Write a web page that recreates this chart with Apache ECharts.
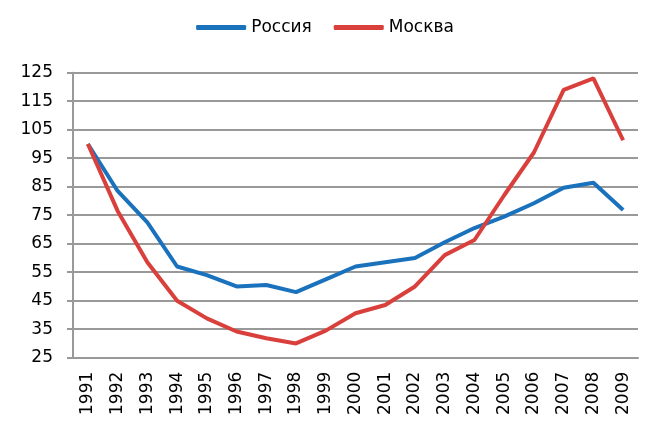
<!DOCTYPE html>
<html>
<head>
<meta charset="utf-8">
<script src="https://cdn.jsdelivr.net/npm/echarts@6/dist/echarts.min.js"></script>
<style>
  html, body { margin: 0; padding: 0; background: #fff; }
  #chart { width: 650px; height: 443px; }
</style>
</head>
<body>
<div id="chart"></div>
<script>
// Годы и индексы (1991 = 100)
const years = ['1991', '1992', '1993', '1994', '1995', '1996', '1997', '1998', '1999', '2000',
  '2001', '2002', '2003', '2004', '2005', '2006', '2007', '2008', '2009'];
const russia = [100, 83.5, 72.5, 57, 54, 50, 50.5, 48, 52.5, 57, 58.5, 60, 65.5, 70.5, 74.5, 79.2, 84.6, 86.4, 76.8];
const moscow = [100, 76.5, 58.5, 45, 38.8, 34.2, 31.8, 30, 34.5, 40.6, 43.5, 50, 61, 66.3, 82, 97, 119, 123, 101.3];
const seriesNames = ['Россия', 'Москва'];
const colors = ['#1a72bd', '#d9403b'];

const font = 'DejaVu Sans, Verdana, sans-serif';
const chart = echarts.init(document.getElementById('chart'));

chart.setOption({
  animation: false,
  color: colors,
  legend: {
    top: 14,
    left: 'center',
    icon: 'roundRect',
    itemWidth: 50,
    itemHeight: 5,
    itemGap: 22,
    textStyle: { fontFamily: font, fontSize: 17, color: '#000' },
    data: seriesNames
  },
  grid: { left: 73, right: 12, top: 72.7, bottom: 85.3 },
  xAxis: {
    type: 'category',
    data: years,
    boundaryGap: true,
    axisLine: { lineStyle: { color: '#999', width: 2 } },
    axisTick: { length: 9, interval: 0, lineStyle: { color: '#999', width: 2 } },
    axisLabel: {
      interval: 0,
      rotate: 90,
      margin: 14,
      fontFamily: font,
      fontSize: 17,
      color: '#000'
    }
  },
  yAxis: {
    type: 'value',
    min: 25,
    max: 125,
    interval: 10,
    axisLine: { show: true, lineStyle: { color: '#999', width: 2 } },
    axisTick: { show: true, length: 6, lineStyle: { color: '#999', width: 2 } },
    axisLabel: { margin: 20, fontFamily: font, fontSize: 17, color: '#000' },
    splitLine: { lineStyle: { color: '#999', width: 2 } }
  },
  series: [
    {
      name: seriesNames[0],
      type: 'line',
      data: russia,
      symbol: 'none',
      lineStyle: { width: 4, color: colors[0] }
    },
    {
      name: seriesNames[1],
      type: 'line',
      data: moscow,
      symbol: 'none',
      lineStyle: { width: 4, color: colors[1] }
    }
  ]
});
</script>
</body>
</html>
